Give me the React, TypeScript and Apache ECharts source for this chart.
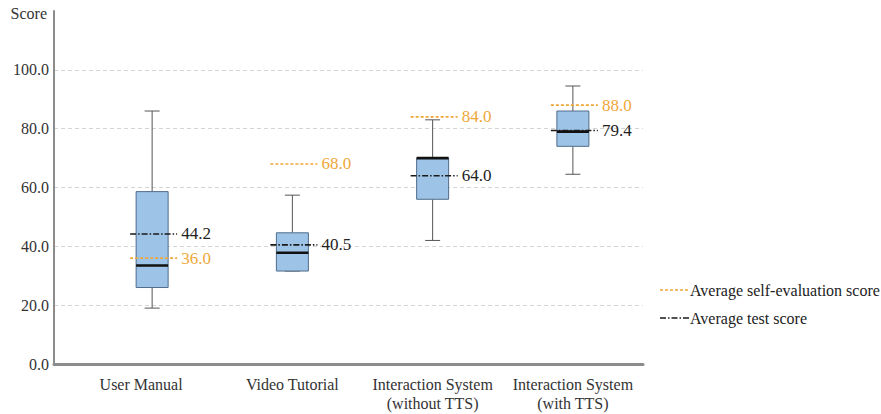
import React, { useEffect, useRef } from "react";
import * as echarts from "echarts";

const categories = [
  "User Manual",
  "Video Tutorial",
  "Interaction System\n(without TTS)",
  "Interaction System\n(with TTS)",
];
// [min, q1, median, q3, max]
const boxStats = [
  [19, 26, 33.5, 58.6, 86],
  [31.6, 31.6, 37.8, 44.6, 57.4],
  [42, 56, 70, 70, 83],
  [64.5, 74, 79, 86, 94.5],
];
const selfEvalMeans = [36.0, 68.0, 84.0, 88.0];
const testMeans = [44.2, 40.5, 64.0, 79.4];
const yTicks = [0, 20, 40, 60, 80, 100, 120];

const FONT = "Times New Roman, Liberation Serif, Tinos, DejaVu Serif, serif";
const ORANGE = "#EFA73A";
const DARK = "#1a1a1a";

export default function App() {
  const ref = useRef<HTMLDivElement>(null);
  useEffect(() => {
    if (!ref.current) return;
    const chart = echarts.init(ref.current, null, { renderer: "svg" });
    const gridTop = 11;
    const gridBottom = 50;
    const gridRight = 238;

    const meanRender = (color: string, dash: number[], textColor: string) =>
      (params: any, api: any) => {
        const idx = api.value(0);
        const val = api.value(1);
        const p = api.coord([idx, val]);
        return {
          type: "group",
          children: [
            {
              type: "line",
              shape: { x1: p[0] - 22, y1: p[1], x2: p[0] + 25, y2: p[1] },
              style: { stroke: color, lineWidth: 1.6, lineDash: dash },
            },
            {
              type: "text",
              x: p[0] + 29,
              y: p[1],
              style: {
                text: val.toFixed(1),
                fill: textColor,
                fontFamily: FONT,
                fontSize: 17,
                align: "left",
                verticalAlign: "middle",
              },
            },
          ],
        };
      };

    chart.setOption({
      animation: false,
      textStyle: { fontFamily: FONT },
      grid: [
        { left: 54, right: gridRight, top: gridTop, bottom: gridBottom },
        { left: 82, right: gridRight, top: gridTop, bottom: gridBottom },
      ],
      xAxis: [
        {
          type: "value",
          gridIndex: 0,
          min: 0,
          max: 1,
          axisLine: { show: true, lineStyle: { color: "#8c8c8c", width: 3 } },
          axisTick: { show: false },
          axisLabel: { show: false },
          splitLine: { show: false },
        },
        {
          type: "category",
          gridIndex: 1,
          data: categories,
          axisLine: { show: false },
          axisTick: { show: false },
          axisLabel: {
            color: "#333",
            fontFamily: FONT,
            fontSize: 16,
            lineHeight: 19,
            margin: 11,
            interval: 0,
            formatter: (v: string, i: number) => (i === 0 ? `{a|${v}}` : v),
            rich: {
              a: {
                fontFamily: FONT,
                fontSize: 16,
                color: "#333",
                lineHeight: 19,
                padding: [0, 22, 0, 0],
              },
            },
          },
        },
      ],
      yAxis: [
        {
          type: "value",
          gridIndex: 0,
          min: yTicks[0],
          max: yTicks[yTicks.length - 1],
          interval: 20,
          axisLine: { show: true, lineStyle: { color: "#8c8c8c", width: 2 } },
          axisTick: { show: false },
          axisLabel: {
            color: "#333",
            fontFamily: FONT,
            fontSize: 16,
            margin: 5,
            formatter: (v: number) =>
              v === 120 ? "{s|Score}" : v.toFixed(1),
            rich: {
              s: { fontFamily: FONT, fontSize: 16, color: "#333", padding: [5, 2, 0, 0] },
            },
          },
          splitLine: {
            show: true,
            showMaxLine: false,
            lineStyle: { color: "#d4d4d4", type: [4, 3], width: 1 },
          },
        },
        {
          type: "value",
          gridIndex: 1,
          min: 0,
          max: 120,
          interval: 20,
          show: false,
          splitLine: { show: false },
        },
      ],
      series: [
        {
          type: "custom",
          xAxisIndex: 1,
          yAxisIndex: 1,
          data: boxStats.map((s, i) => [i, ...s]),
          encode: { x: 0, y: [1, 2, 3, 4, 5] },
          renderItem: (params: any, api: any) => {
            const idx = api.value(0);
            const pMin = api.coord([idx, api.value(1)]);
            const pQ1 = api.coord([idx, api.value(2)]);
            const pMed = api.coord([idx, api.value(3)]);
            const pQ3 = api.coord([idx, api.value(4)]);
            const pMax = api.coord([idx, api.value(5)]);
            const x = pMin[0];
            const hw = 16;
            const cap = 7.5;
            const wStyle = { stroke: "#555", lineWidth: 1 };
            return {
              type: "group",
              children: [
                { type: "line", shape: { x1: x, y1: pMax[1], x2: x, y2: pQ3[1] }, style: wStyle },
                { type: "line", shape: { x1: x, y1: pQ1[1], x2: x, y2: pMin[1] }, style: wStyle },
                { type: "line", shape: { x1: x - cap, y1: pMax[1], x2: x + cap, y2: pMax[1] }, style: wStyle },
                { type: "line", shape: { x1: x - cap, y1: pMin[1], x2: x + cap, y2: pMin[1] }, style: wStyle },
                {
                  type: "rect",
                  shape: { x: x - hw, y: pQ3[1], width: hw * 2, height: pQ1[1] - pQ3[1] },
                  style: { fill: "#9DC3E6", stroke: "#4F6C8C", lineWidth: 1 },
                },
                {
                  type: "line",
                  shape: { x1: x - hw, y1: pMed[1], x2: x + hw, y2: pMed[1] },
                  style: { stroke: "#111", lineWidth: 2.6 },
                },
              ],
            };
          },
          z: 2,
        },
        {
          type: "custom",
          xAxisIndex: 1,
          yAxisIndex: 1,
          data: selfEvalMeans.map((v, i) => [i, v]),
          renderItem: meanRender(ORANGE, [3, 2], ORANGE),
          z: 3,
        },
        {
          type: "custom",
          xAxisIndex: 1,
          yAxisIndex: 1,
          data: testMeans.map((v, i) => [i, v]),
          renderItem: meanRender(DARK, [6, 2, 1.5, 2], "#222"),
          z: 4,
        },
      ],
      graphic: [
        {
          type: "line",
          shape: { x1: 660, y1: 290, x2: 690, y2: 290 },
          style: { stroke: ORANGE, lineWidth: 1.6, lineDash: [3, 2] },
        },
        {
          type: "text",
          x: 690,
          y: 290,
          style: {
            text: "Average self-evaluation score",
            fill: "#222",
            fontFamily: FONT,
            fontSize: 16,
            verticalAlign: "middle",
          },
        },
        {
          type: "line",
          shape: { x1: 660, y1: 318, x2: 690, y2: 318 },
          style: { stroke: DARK, lineWidth: 1.6, lineDash: [6, 2, 1.5, 2] },
        },
        {
          type: "text",
          x: 690,
          y: 318,
          style: {
            text: "Average test score",
            fill: "#222",
            fontFamily: FONT,
            fontSize: 16,
            verticalAlign: "middle",
          },
        },
      ],
    });
    return () => chart.dispose();
  }, []);
  return (
    <div
      ref={ref}
      style={{ position: "fixed", left: 0, top: 0, width: 881, height: 414, background: "#fff" }}
    />
  );
}
